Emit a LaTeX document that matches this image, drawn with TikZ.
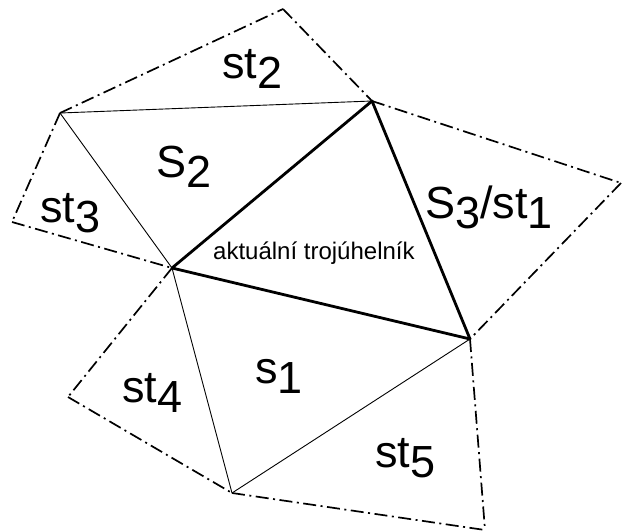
\documentclass[tikz,border=0pt]{standalone}
\usepackage{fontspec}
\setmainfont{Liberation Sans}
\newcommand{\lbl}[2]{#1\raisebox{-0.23em}{#2}}
\begin{document}
\begin{tikzpicture}[x=1pt,y=-1pt,
  thinline/.style={line width=0.9pt},
  thickline/.style={line width=2.8pt,line join=round},
  dashdot/.style={line width=1.7pt,dash pattern=on 13pt off 4.5pt on 2pt off 4.5pt},
  biglabel/.style={anchor=base west,inner sep=0pt,font=\fontsize{45}{45}\selectfont},
  smalllabel/.style={anchor=base west,inner sep=0pt,font=\fontsize{24}{24}\selectfont}]
\useasboundingbox (0,0) rectangle (623,531);
\coordinate (T2) at (283,9);
\coordinate (A) at (372,101);
\coordinate (L) at (60,113);
\coordinate (L3) at (12,222);
\coordinate (B) at (172,268);
\coordinate (R) at (621,183);
\coordinate (C) at (470,339);
\coordinate (L4) at (68,397);
\coordinate (Bot) at (232,493);
\coordinate (BR) at (485,530);
% dash-dot outer boundary
\draw[dashdot] (L) -- (T2);
\draw[dashdot] (T2) -- (A);
\draw[dashdot] (A) -- (R);
\draw[dashdot] (R) -- (C);
\draw[dashdot] (L) -- (L3);
\draw[dashdot] (L3) -- (B);
\draw[dashdot] (B) -- (L4);
\draw[dashdot] (L4) -- (Bot);
\draw[dashdot] (Bot) -- (BR);
\draw[dashdot] (C) -- (BR);
% thin inner edges
\draw[thinline] (L) -- (A);
\draw[thinline] (L) -- (B);
\draw[thinline] (B) -- (Bot);
\draw[thinline] (Bot) -- (C);
% current triangle
\draw[thickline] (A) -- (B) -- (C) -- cycle;
% labels
\node[biglabel] (lst2) at (222,78) {\lbl{st}{2}};
\node[biglabel] (lS2) at (156,177) {\lbl{S}{2}};
\node[biglabel] (lst3) at (40,222) {\lbl{st}{3}};
\node[biglabel] (lS3) at (425,218) {\lbl{S}{3}/\lbl{st}{1}};
\node[smalllabel] (lakt) at (213,259) {aktuální trojúhelník};
\node[biglabel] (ls1) at (255,383) {\lbl{s}{1}};
\node[biglabel] (lst4) at (122,402) {\lbl{st}{4}};
\node[biglabel] (lst5) at (375,467) {\lbl{st}{5}};
\end{tikzpicture}
\end{document}
